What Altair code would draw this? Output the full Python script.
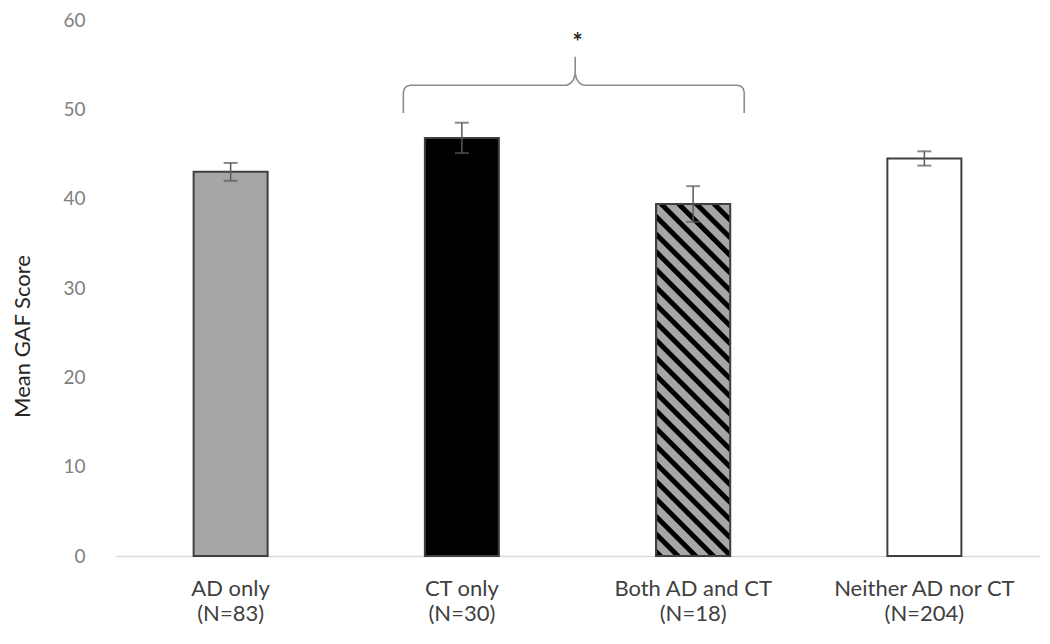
import altair as alt
import pandas as pd

# ---- data ----
categories = ["AD only", "CT only", "Both AD and CT", "Neither AD nor CT"]
n_values = [83, 30, 18, 204]
means = [43.0, 46.8, 39.4, 44.5]
errors = [1.0, 1.7, 2.0, 0.8]
fills = ["#a6a6a6", "#000000", "#a6a6a6", "#ffffff"]

# significance bracket (x in group units, 0..4; y in score units)
bracket_x = [1.247, 1.247, 1.252, 1.262, 1.278, 1.955, 1.972, 1.984, 1.99, 1.99,
             1.99, 1.996, 2.008, 2.025, 2.69, 2.706, 2.716, 2.721, 2.721]
bracket_y = [49.6, 51.9, 52.35, 52.6, 52.7, 52.7, 52.95, 53.4, 54.0, 55.9,
             54.0, 53.4, 52.95, 52.7, 52.7, 52.6, 52.35, 51.9, 49.6]
star_x = [2.0]
star_y = [58.3]
star_text = ["*"]

FONT = "Lato"

df = pd.DataFrame({
    "cat": [c + "\n(N=" + str(n) + ")" for c, n in zip(categories, n_values)],
    "mean": means,
    "lo": [m - e for m, e in zip(means, errors)],
    "hi": [m + e for m, e in zip(means, errors)],
    "fill": fills,
})
order = list(df["cat"])

bdf = pd.DataFrame({"bx": bracket_x, "by": bracket_y, "i": range(len(bracket_x))})
sdf = pd.DataFrame({"sx": star_x, "sy": star_y, "t": star_text})

xscale = alt.Scale(domain=order, paddingInner=0.68, paddingOuter=0.34)
yscale = alt.Scale(domain=[0, 60], nice=False)

x_enc = alt.X("cat:N", scale=xscale, sort=order, title=None,
              axis=alt.Axis(labelAngle=0, labelExpr="split(datum.label, '\\n')",
                            labelFont=FONT, labelFontSize=22, labelColor="#404040",
                            labelLineHeight=25, labelPadding=22, ticks=False,
                            labelLimit=400,
                            domainColor="#d9d9d9", domainWidth=1.5))
y_enc = alt.Y("mean:Q", scale=yscale,
              axis=alt.Axis(values=[0, 10, 20, 30, 40, 50, 60], grid=False,
                            ticks=False, domain=False, labelFont=FONT,
                            labelFontSize=19, labelColor="#808080", labelPadding=30,
                            title="Mean GAF Score", titleFont=FONT, titleFontSize=22,
                            titleFontWeight="normal", titleColor="#262626",
                            titleX=-93, titleY=316, titleAngle=-90,
                            titleBaseline="middle", titleAlign="center"))

bars = alt.Chart(df).mark_bar(stroke="#404040", strokeWidth=2).encode(
    x=x_enc, y=y_enc,
    fill=alt.Fill("cat:N", scale=alt.Scale(domain=order, range=fills), legend=None),
)

# hatch fill for the "Both" bar via a striped linear gradient
W, H = 74.0, 352.0
b = 1.2
a = b * W / H
n = 25
dark, light = "#000000", "#a6a6a6"
stops = []
for k in range(n):
    s = k / n
    stops += [
        {"offset": s, "color": light},
        {"offset": s + 0.08 / n, "color": dark},
        {"offset": s + 0.40 / n, "color": dark},
        {"offset": s + 0.48 / n, "color": light},
    ]
stops.append({"offset": 1.0, "color": light})
grad = {"gradient": "linear", "x1": 0, "y1": 1, "x2": a, "y2": 1 - b, "stops": stops}

hatch = alt.Chart(df).transform_filter(
    alt.datum.cat == order[2]
).mark_bar(fill=grad, stroke="#404040", strokeWidth=2).encode(
    x=alt.X("cat:N", scale=xscale, sort=order), y=alt.Y("mean:Q", scale=yscale)
)

err_rule = alt.Chart(df).mark_rule(color="#595959", strokeWidth=1.5).encode(
    x=alt.X("cat:N", scale=xscale, sort=order), y=alt.Y("lo:Q", scale=yscale), y2="hi:Q"
)
cap_hi = alt.Chart(df).mark_tick(color="#595959", thickness=2, size=14).encode(
    x=alt.X("cat:N", scale=xscale, sort=order), y=alt.Y("hi:Q", scale=yscale)
)
cap_lo = alt.Chart(df).mark_tick(color="#595959", thickness=2, size=14).encode(
    x=alt.X("cat:N", scale=xscale, sort=order), y=alt.Y("lo:Q", scale=yscale)
)

qx = alt.Scale(domain=[0, 4], nice=False, zero=False)
bracket = alt.Chart(bdf).mark_line(color="#8c8c8c", strokeWidth=1.6).encode(
    x=alt.X("bx:Q", scale=qx, axis=None),
    y=alt.Y("by:Q", scale=yscale),
    order="i:Q",
)
star = alt.Chart(sdf).mark_text(font=FONT, fontSize=24, fontWeight="bold",
                                color="#262626", baseline="middle", dy=9).encode(
    x=alt.X("sx:Q", scale=qx, axis=None),
    y=alt.Y("sy:Q", scale=yscale),
    text="t:N",
)

cat_layer = alt.layer(bars, hatch, err_rule, cap_hi, cap_lo)
ann_layer = alt.layer(bracket, star)

chart = alt.layer(cat_layer, ann_layer).resolve_scale(x="independent").properties(
    width=925, height=536,
    background="white",
    autosize=alt.AutoSizeParams(type="none"),
    padding={"left": 107, "top": 12, "right": 2, "bottom": 80},
).configure_view(strokeWidth=0, stroke="transparent")

chart.save("out.html", embed_options={"renderer": "svg", "actions": False})
